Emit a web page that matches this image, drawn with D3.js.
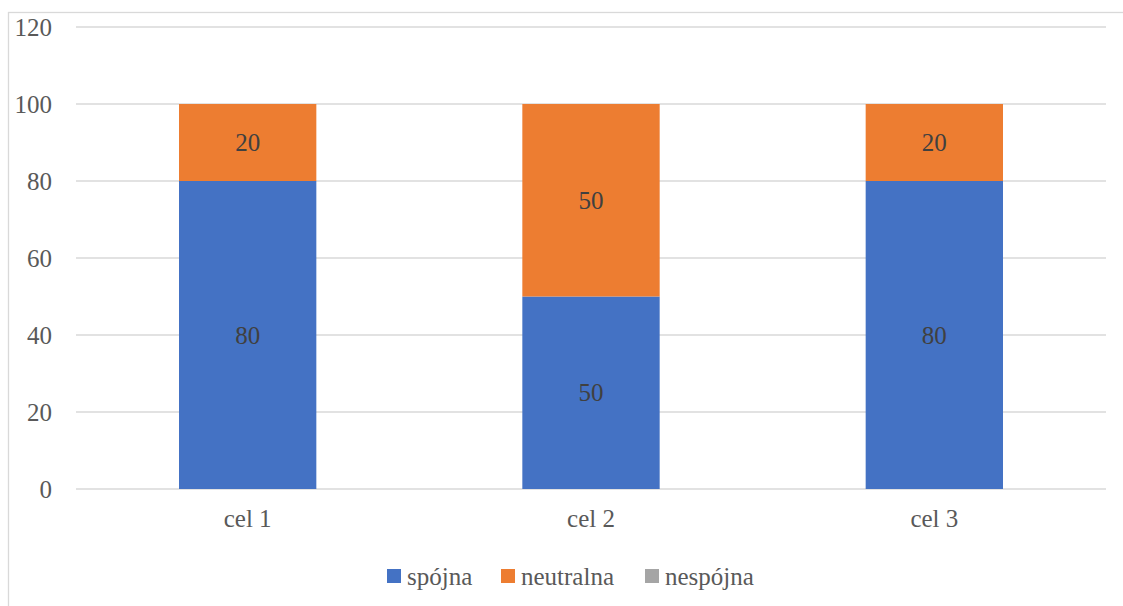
<!DOCTYPE html>
<html><head><meta charset="utf-8">
<script src="https://cdn.jsdelivr.net/npm/d3@7"></script>
<style>body{margin:0;background:#fff}svg{display:block}
svg text{font-family:"Liberation Serif","Tinos","Times New Roman","Noto Serif","DejaVu Serif",serif;}</style>
</head><body>
<script>
const categories = ["cel 1", "cel 2", "cel 3"];
const seriesNames = ["spójna", "neutralna", "nespójna"];
const spojna = [80, 50, 80];
const neutralna = [20, 50, 20];
const nespojna = [0, 0, 0];
const yTicks = [0, 20, 40, 60, 80, 100, 120];
const colors = ["#4472C4", "#ED7D31", "#A5A5A5"];

const W = 1123, H = 606;
const svg = d3.select("body").append("svg").attr("width", W).attr("height", H);

// chart frame (cropped at right and bottom)
svg.append("rect").attr("x", 8.5).attr("y", 12.5).attr("width", 1130).attr("height", 610)
  .attr("fill", "none").attr("stroke", "#d9d9d9").attr("stroke-width", 1.3);

const x = d3.scaleBand().domain(categories).range([76, 1106]).padding(0);
const y = d3.scaleLinear().domain([0, 120]).range([489, 27]);

// gridlines
svg.append("g").selectAll("line").data(yTicks).join("line")
  .attr("x1", 76).attr("x2", 1106)
  .attr("y1", d => y(d)).attr("y2", d => y(d))
  .attr("stroke", "#d9d9d9").attr("stroke-width", 1.5);

// y axis labels
const yAxis = d3.axisLeft(y).tickValues(yTicks).tickSize(0).tickPadding(0);
const ya = svg.append("g").attr("transform", "translate(52,0)").call(yAxis);
ya.select(".domain").remove();
ya.attr("font-family", null);
ya.selectAll("text").style("font-size", "25px").attr("fill", "#595959").attr("dy", "0.34em");

// x axis labels
const xAxis = d3.axisBottom(x).tickSize(0).tickPadding(0);
const xa = svg.append("g").attr("transform", "translate(0,509)").call(xAxis);
xa.select(".domain").remove();
xa.attr("font-family", null);
xa.selectAll("text").style("font-size", "25px").attr("fill", "#595959").attr("dy", "0.71em");

const data = categories.map((c, i) => ({cat: c, "spójna": spojna[i], "neutralna": neutralna[i], "nespójna": nespojna[i]}));
const stack = d3.stack().keys(seriesNames)(data);
const barW = x.bandwidth() / 2.5;

stack.forEach((s, si) => {
  const g = svg.append("g");
  g.selectAll("rect").data(s).join("rect")
    .attr("x", d => x(d.data.cat) + x.bandwidth() / 2 - barW / 2)
    .attr("width", barW)
    .attr("y", d => y(d[1]))
    .attr("height", d => y(d[0]) - y(d[1]))
    .attr("fill", colors[si]);
  g.selectAll("text").data(s.filter(d => d[1] - d[0] > 0)).join("text")
    .attr("x", d => x(d.data.cat) + x.bandwidth() / 2)
    .attr("y", d => (y(d[0]) + y(d[1])) / 2)
    .attr("dy", "0.34em")
    .attr("text-anchor", "middle")
    .style("font-size", "25px").attr("fill", "#404040")
    .text(d => d[1] - d[0]);
});

// legend
const legX = [387, 501, 645];
const leg = svg.append("g");
seriesNames.forEach((n, i) => {
  leg.append("rect").attr("x", legX[i]).attr("y", 569).attr("width", 14).attr("height", 14).attr("fill", colors[i]);
  leg.append("text").attr("x", legX[i] + 20).attr("y", 576).attr("dy", "0.34em")
    .style("font-size", "25px").attr("fill", "#595959").text(n);
});
</script>
</body></html>
